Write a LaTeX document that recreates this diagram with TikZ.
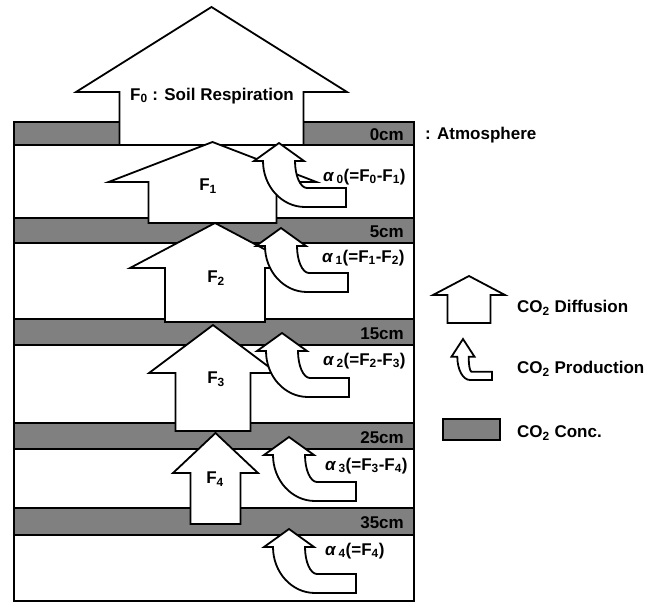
\documentclass[tikz,border=0pt]{standalone}
\usepackage{fontspec}
\setmainfont{Liberation Sans}
\definecolor{bandgray}{RGB}{128,128,128}
\tikzset{
  outl/.style={draw=black, line width=1.8pt, line join=miter},
  band/.style={outl, fill=bandgray},
  flow/.style={outl, fill=white},
  lbl/.style={font=\fontsize{17}{20}\selectfont\bfseries, inner sep=0pt},
}
\newcommand\bigarr[6]{% cx, tip y, head base y, head half width, shaft half width, bottom y
  \draw[flow] (#1,#2) -- ({#1+#4},#3) -- ({#1+#5},#3) -- ({#1+#5},#6) -- ({#1-#5},#6) -- ({#1-#5},#3) -- ({#1-#4},#3) -- cycle;}
\newcommand\prodarr[2]{% cx, tip y
  \begin{scope}[shift={(#1,#2)}]
    \draw[flow] (0,0) -- (25,18) -- (16,18) .. controls (16,32.9) and (21.4,45) .. (28,45) -- (67,45) -- (67,64) -- (26,64) .. controls (2.8,64) and (-16,43.4) .. (-16,18) -- (-25,18) -- cycle;
  \end{scope}}
\newcommand\alab[1]{{\itshape α}\,\textsubscript{#1}}
\begin{document}
\begin{tikzpicture}[x=1pt,y=-1pt]
\useasboundingbox (0,0) rectangle (645,603);
% soil column
\draw[flow] (14,122) rectangle (414,601);
\foreach \a/\b in {122/145, 218/243, 319/345, 423/449, 508/535}
  \draw[band] (14,\a) rectangle (414,\b);
\node[lbl, anchor=east] (d0) at (404,135) {0cm};
\node[lbl, anchor=east] (d5) at (404,232) {5cm};
\node[lbl, anchor=east] (d15) at (404,334) {15cm};
\node[lbl, anchor=east] (d25) at (404,438) {25cm};
\node[lbl, anchor=east] (d35) at (404,523) {35cm};
\node[lbl, anchor=west] (atm) at (425,135) {: Atmosphere};
% diffusion arrows
\bigarr{211.5}{7}{92}{135.5}{92}{145}
\bigarr{212.5}{142}{182}{104}{64}{223}
\bigarr{215}{223}{268}{85}{50}{322}
\bigarr{213}{325}{373}{64}{37.5}{431}
\bigarr{215.5}{433}{473}{42.5}{25}{524}
\node[lbl] (f0) at (212,96) {F\textsubscript{0} : Soil Respiration};
\node[lbl] (f1) at (208,186) {F\textsubscript{1}};
\node[lbl] (f2) at (216,278) {F\textsubscript{2}};
\node[lbl] (f3) at (216,379) {F\textsubscript{3}};
\node[lbl] (f4) at (215,479) {F\textsubscript{4}};
% production arrows
\prodarr{279}{143}
\prodarr{281}{228}
\prodarr{282}{333}
\prodarr{289}{437}
\prodarr{289}{529}
\node[lbl, anchor=west] (a0) at (323,177) {\alab{0}(=F\textsubscript{0}-F\textsubscript{1})};
\node[lbl, anchor=west] (a1) at (322,258) {\alab{1}(=F\textsubscript{1}-F\textsubscript{2})};
\node[lbl, anchor=west] (a2) at (323,361) {\alab{2}(=F\textsubscript{2}-F\textsubscript{3})};
\node[lbl, anchor=west] (a3) at (325,466) {\alab{3}(=F\textsubscript{3}-F\textsubscript{4})};
\node[lbl, anchor=west] (a4) at (325,551) {\alab{4}(=F\textsubscript{4})};
% legend
\bigarr{469}{276}{295}{36}{21.5}{323}
\begin{scope}[shift={(463,339)}]
  \draw[flow] (0,0) -- (11.5,17.7) -- (5.7,17.7) .. controls (5.7,26) and (6.9,32.7) .. (8.4,32.7) -- (29,32.7) -- (29,41) -- (7,41) .. controls (0,41) and (-5.7,30.6) .. (-5.7,17.7) -- (-11.5,17.7) -- cycle;
\end{scope}
\draw[band] (443,419) rectangle (500,440);
\node[lbl, anchor=west] (ldiff) at (517,308) {CO\textsubscript{2} Diffusion};
\node[lbl, anchor=west] (lprod) at (517,369) {CO\textsubscript{2} Production};
\node[lbl, anchor=west] (lconc) at (517,433) {CO\textsubscript{2} Conc.};
\end{tikzpicture}
\end{document}
